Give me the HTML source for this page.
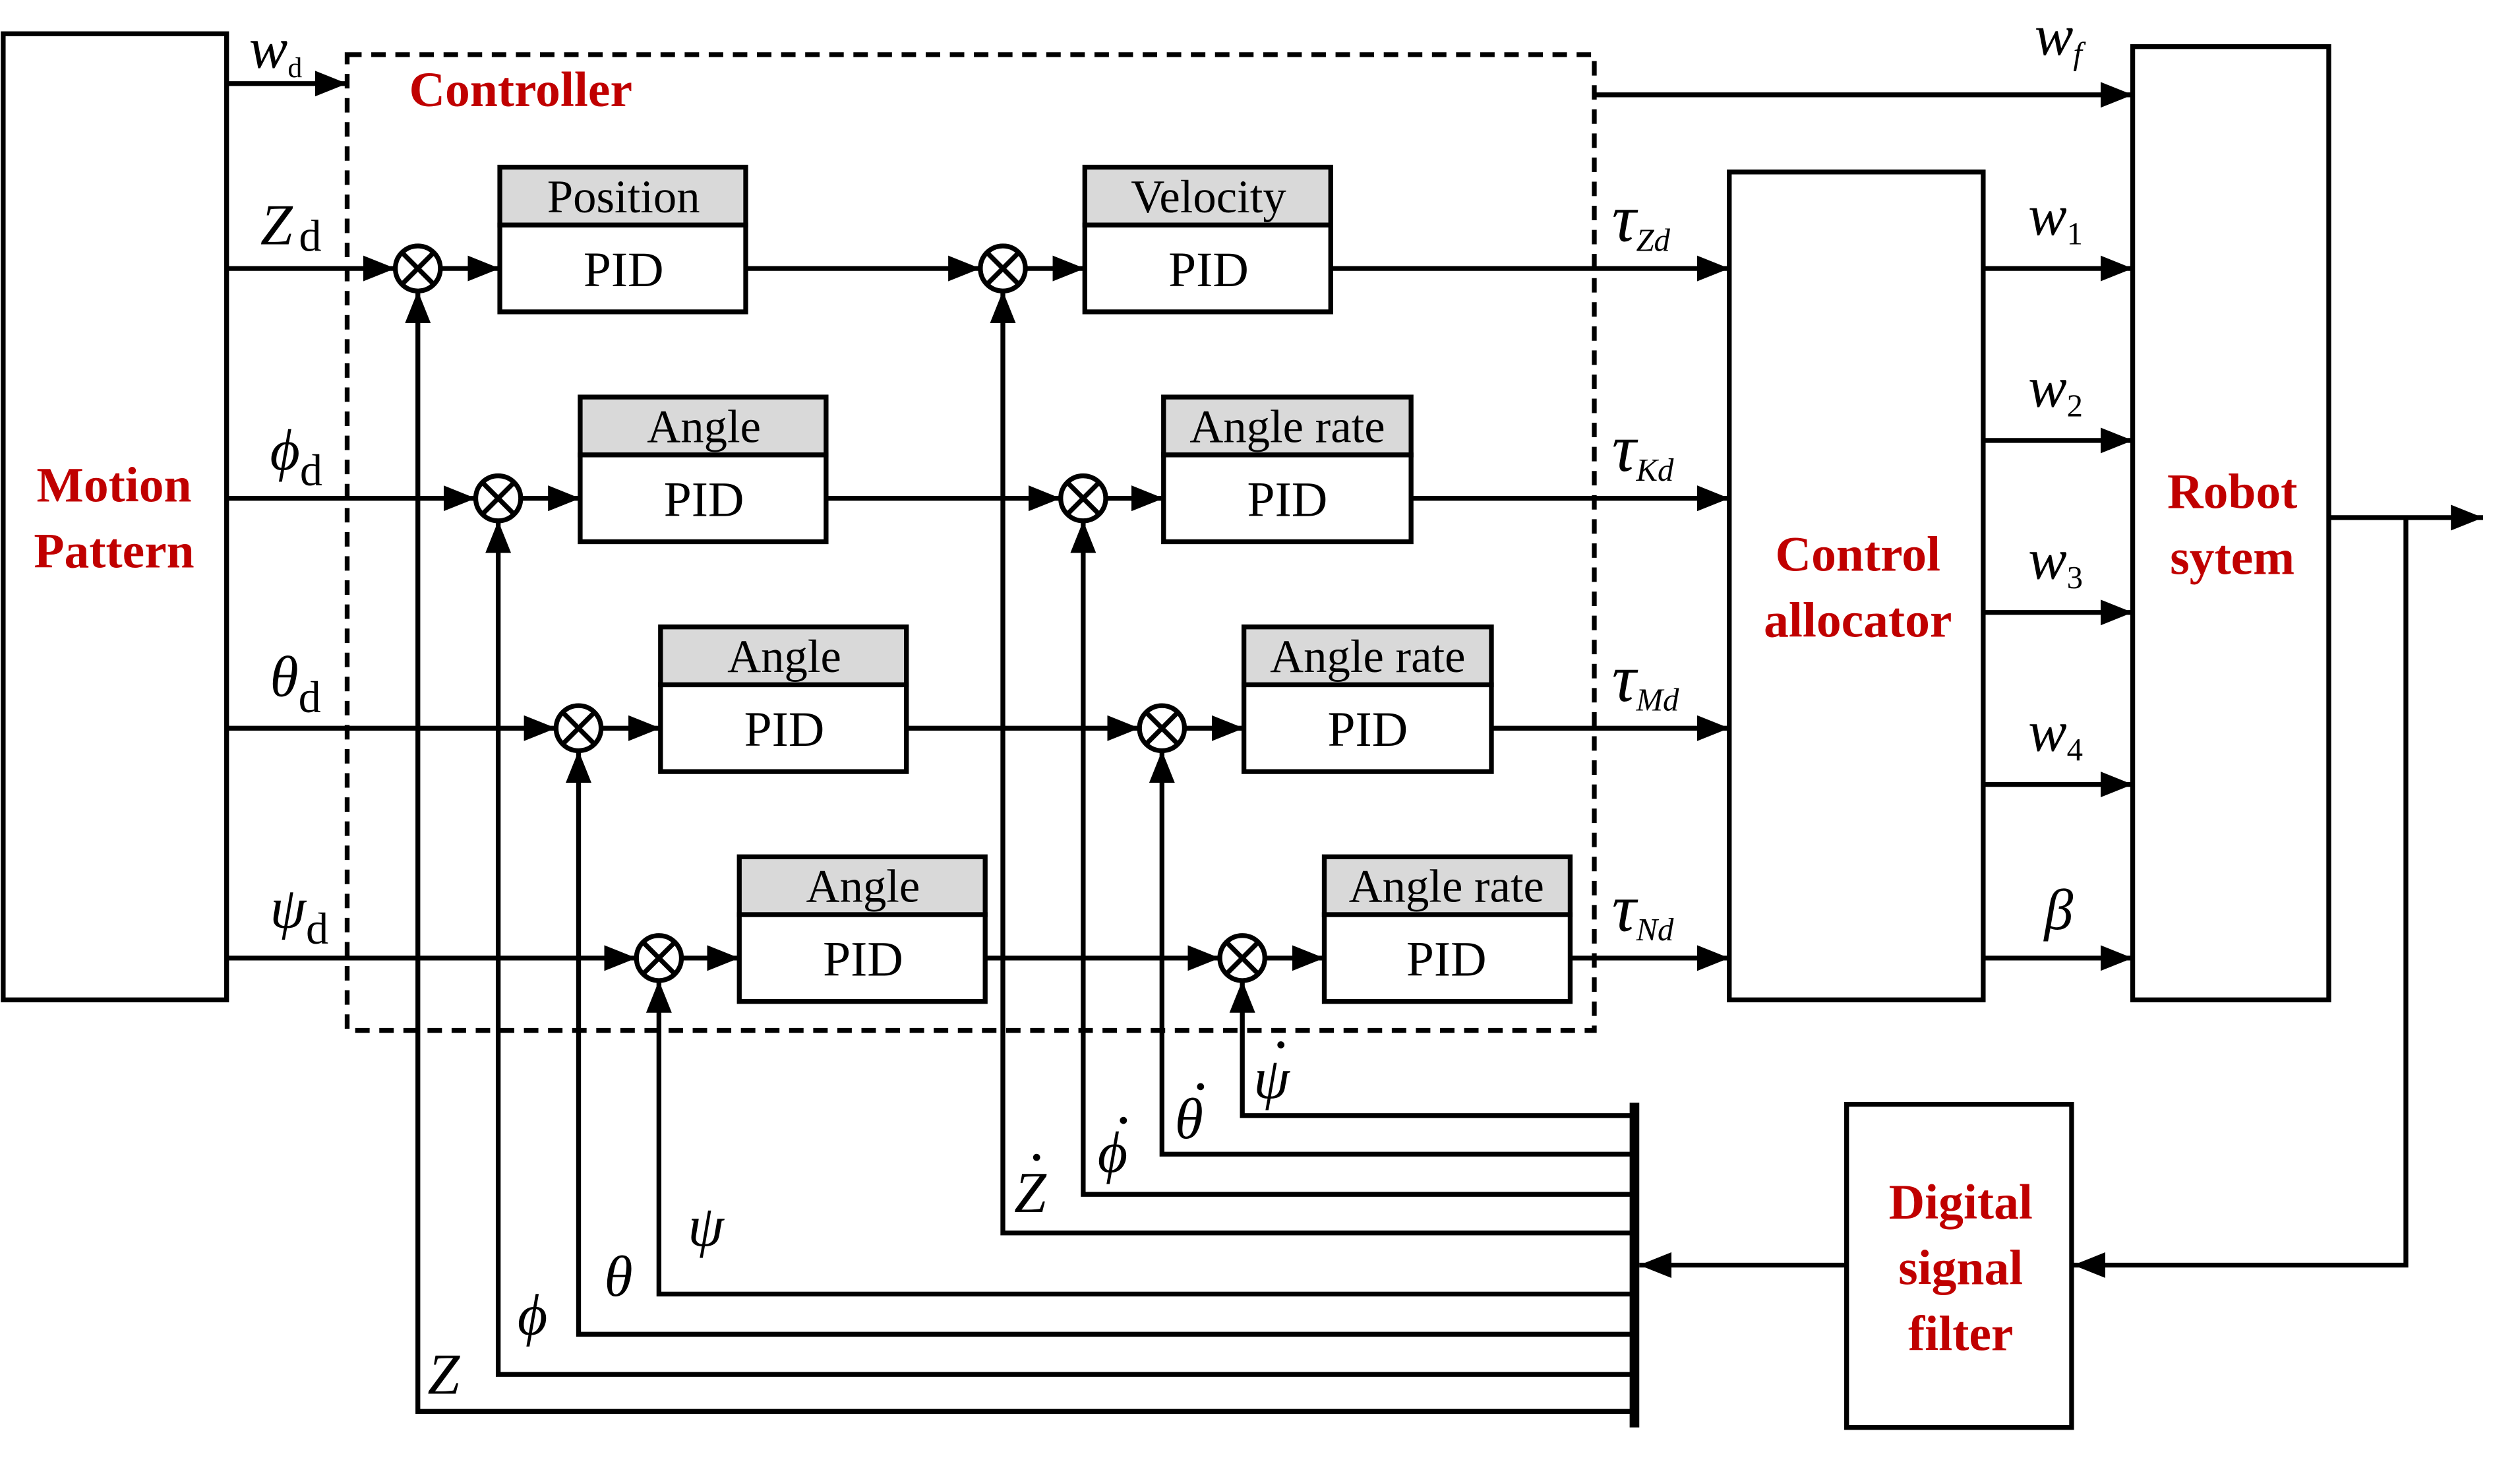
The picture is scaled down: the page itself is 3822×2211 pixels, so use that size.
<!DOCTYPE html>
<html><head><meta charset="utf-8"><style>html,body{margin:0;padding:0;background:#fff}svg{display:block}</style></head>
<body>
<svg width="3822" height="2211" viewBox="0 0 1568 907" preserveAspectRatio="none" xmlns="http://www.w3.org/2000/svg">
<defs>
<marker id="a" viewBox="0 0 20 16" refX="20" refY="8" markerWidth="20" markerHeight="16" markerUnits="userSpaceOnUse" orient="auto"><path d="M0,0 L20,8 L0,16 Z" fill="#000"/></marker>
</defs>
<g fill="none" stroke="#000" stroke-width="3">
<rect x="2" y="21" width="139" height="601"/>
<rect x="1076" y="107" width="158" height="515"/>
<rect x="1327" y="29" width="122" height="593"/>
<rect x="1149" y="687" width="140" height="201"/>
<rect x="216" y="34" width="776" height="607" stroke-dasharray="9,6"/>
<line x1="141" y1="52" x2="216" y2="52" marker-end="url(#a)"/>
<line x1="992" y1="59" x2="1327" y2="59" marker-end="url(#a)"/>
<line x1="1234" y1="167" x2="1327" y2="167" marker-end="url(#a)"/>
<line x1="1234" y1="274" x2="1327" y2="274" marker-end="url(#a)"/>
<line x1="1234" y1="381" x2="1327" y2="381" marker-end="url(#a)"/>
<line x1="1234" y1="488" x2="1327" y2="488" marker-end="url(#a)"/>
<line x1="1234" y1="596" x2="1327" y2="596" marker-end="url(#a)"/>
<line x1="1449" y1="322" x2="1545" y2="322" marker-end="url(#a)"/>
<polyline points="1497,322 1497,787 1290,787" marker-end="url(#a)"/>
<line x1="1149" y1="787" x2="1020" y2="787" marker-end="url(#a)"/>
<line x1="1017" y1="686" x2="1017" y2="888" stroke-width="6"/>
</g>
<g stroke="#000" stroke-width="3" fill="none">
<line x1="141" y1="167" x2="246" y2="167" marker-end="url(#a)"/>
<line x1="274" y1="167" x2="311" y2="167" marker-end="url(#a)"/>
<line x1="464" y1="167" x2="610" y2="167" marker-end="url(#a)"/>
<line x1="638" y1="167" x2="675" y2="167" marker-end="url(#a)"/>
<line x1="828" y1="167" x2="1076" y2="167" marker-end="url(#a)"/>
<line x1="141" y1="310" x2="296" y2="310" marker-end="url(#a)"/>
<line x1="324" y1="310" x2="361" y2="310" marker-end="url(#a)"/>
<line x1="514" y1="310" x2="660" y2="310" marker-end="url(#a)"/>
<line x1="688" y1="310" x2="724" y2="310" marker-end="url(#a)"/>
<line x1="878" y1="310" x2="1076" y2="310" marker-end="url(#a)"/>
<line x1="141" y1="453" x2="346" y2="453" marker-end="url(#a)"/>
<line x1="374" y1="453" x2="411" y2="453" marker-end="url(#a)"/>
<line x1="564" y1="453" x2="709" y2="453" marker-end="url(#a)"/>
<line x1="737" y1="453" x2="774" y2="453" marker-end="url(#a)"/>
<line x1="928" y1="453" x2="1076" y2="453" marker-end="url(#a)"/>
<line x1="141" y1="596" x2="396" y2="596" marker-end="url(#a)"/>
<line x1="424" y1="596" x2="460" y2="596" marker-end="url(#a)"/>
<line x1="613" y1="596" x2="759" y2="596" marker-end="url(#a)"/>
<line x1="787" y1="596" x2="824" y2="596" marker-end="url(#a)"/>
<line x1="977" y1="596" x2="1076" y2="596" marker-end="url(#a)"/>
<polyline points="1017,694 773,694 773,610" marker-end="url(#a)"/>
<polyline points="1017,718 723,718 723,467" marker-end="url(#a)"/>
<polyline points="1017,743 674,743 674,324" marker-end="url(#a)"/>
<polyline points="1017,767 624,767 624,181" marker-end="url(#a)"/>
<polyline points="1017,805 410,805 410,610" marker-end="url(#a)"/>
<polyline points="1017,830 360,830 360,467" marker-end="url(#a)"/>
<polyline points="1017,855 310,855 310,324" marker-end="url(#a)"/>
<polyline points="1017,878 260,878 260,181" marker-end="url(#a)"/>
</g>
<g stroke="#000" stroke-width="3" fill="#fff">
<g transform="translate(260,167)"><circle r="14"/><path d="M-10,-10 L10,10 M-10,10 L10,-10"/></g>
<g transform="translate(624,167)"><circle r="14"/><path d="M-10,-10 L10,10 M-10,10 L10,-10"/></g>
<g transform="translate(310,310)"><circle r="14"/><path d="M-10,-10 L10,10 M-10,10 L10,-10"/></g>
<g transform="translate(674,310)"><circle r="14"/><path d="M-10,-10 L10,10 M-10,10 L10,-10"/></g>
<g transform="translate(360,453)"><circle r="14"/><path d="M-10,-10 L10,10 M-10,10 L10,-10"/></g>
<g transform="translate(723,453)"><circle r="14"/><path d="M-10,-10 L10,10 M-10,10 L10,-10"/></g>
<g transform="translate(410,596)"><circle r="14"/><path d="M-10,-10 L10,10 M-10,10 L10,-10"/></g>
<g transform="translate(773,596)"><circle r="14"/><path d="M-10,-10 L10,10 M-10,10 L10,-10"/></g>
</g>
<g stroke="#000" stroke-width="3">
<rect x="311" y="104" width="153" height="36" fill="#d9d9d9"/><rect x="311" y="140" width="153" height="54" fill="#fff"/>
<rect x="675" y="104" width="153" height="36" fill="#d9d9d9"/><rect x="675" y="140" width="153" height="54" fill="#fff"/>
<rect x="361" y="247" width="153" height="36" fill="#d9d9d9"/><rect x="361" y="283" width="153" height="54" fill="#fff"/>
<rect x="724" y="247" width="154" height="36" fill="#d9d9d9"/><rect x="724" y="283" width="154" height="54" fill="#fff"/>
<rect x="411" y="390" width="153" height="36" fill="#d9d9d9"/><rect x="411" y="426" width="153" height="54" fill="#fff"/>
<rect x="774" y="390" width="154" height="36" fill="#d9d9d9"/><rect x="774" y="426" width="154" height="54" fill="#fff"/>
<rect x="460" y="533" width="153" height="36" fill="#d9d9d9"/><rect x="460" y="569" width="153" height="54" fill="#fff"/>
<rect x="824" y="533" width="153" height="36" fill="#d9d9d9"/><rect x="824" y="569" width="153" height="54" fill="#fff"/>
</g>
<g font-family="Liberation Serif, serif" font-size="29" text-anchor="middle" fill="#000">
<text x="388" y="132">Position</text><text x="388" y="178" font-size="31">PID</text>
<text x="752" y="132">Velocity</text><text x="752" y="178" font-size="31">PID</text>
<text x="438" y="275">Angle</text><text x="438" y="321" font-size="31">PID</text>
<text x="801" y="275">Angle rate</text><text x="801" y="321" font-size="31">PID</text>
<text x="488" y="418">Angle</text><text x="488" y="464" font-size="31">PID</text>
<text x="851" y="418">Angle rate</text><text x="851" y="464" font-size="31">PID</text>
<text x="537" y="561">Angle</text><text x="537" y="607" font-size="31">PID</text>
<text x="900" y="561">Angle rate</text><text x="900" y="607" font-size="31">PID</text>
</g>
<g font-family="Liberation Serif, serif" font-size="31" font-weight="bold" fill="#c00000" text-anchor="middle">
<text x="324" y="66">Controller</text>
<text x="71" y="312">Motion</text><text x="71" y="353">Pattern</text>
<text x="1156" y="355">Control</text><text x="1156" y="396">allocator</text>
<text x="1389" y="316">Robot</text><text x="1389" y="357">sytem</text>
<text x="1220" y="758">Digital</text><text x="1220" y="799">signal</text><text x="1220" y="840">filter</text>
</g>
<g font-family="Liberation Serif, serif" font-size="36" font-style="italic" fill="#000">
<text x="155" y="42">w<tspan font-size="18" font-style="normal" dy="6">d</tspan></text>
<text x="162" y="152">Z<tspan font-size="28" font-style="normal" dx="4" dy="4">d</tspan></text>
<text x="168" y="292">ϕ<tspan font-size="28" font-style="normal" dy="10">d</tspan></text>
<text x="168" y="433">θ<tspan font-size="28" font-style="normal" dy="10">d</tspan></text>
<text x="168" y="577">ψ<tspan font-size="28" font-style="normal" dy="10">d</tspan></text>
<text x="1266" y="34">w<tspan font-size="20" dy="6">f</tspan></text>
<text x="1262" y="146">w<tspan font-size="20" font-style="normal" dy="6">1</tspan></text>
<text x="1262" y="253">w<tspan font-size="20" font-style="normal" dy="6">2</tspan></text>
<text x="1262" y="360">w<tspan font-size="20" font-style="normal" dy="6">3</tspan></text>
<text x="1262" y="467">w<tspan font-size="20" font-style="normal" dy="6">4</tspan></text>
<text x="1272" y="578">β</text>
<text x="1003" y="150" font-size="42">τ<tspan font-size="20" dy="6">Zd</tspan></text>
<text x="1003" y="293" font-size="42">τ<tspan font-size="20" dy="6">Kd</tspan></text>
<text x="1003" y="436" font-size="42">τ<tspan font-size="20" dy="6">Md</tspan></text>
<text x="1003" y="579" font-size="42">τ<tspan font-size="20" dy="6">Nd</tspan></text>
<text x="780" y="683">ψ</text>
<text x="731" y="708">θ</text>
<text x="683" y="729">ϕ</text>
<text x="631" y="754">Z</text>
<text x="428" y="775">ψ</text>
<text x="376" y="806">θ</text>
<text x="322" y="830">ϕ</text>
<text x="266" y="867">Z</text>
</g>
<g fill="#000">
<circle cx="797" cy="650" r="2.2"/>
<circle cx="747" cy="676" r="2.2"/>
<circle cx="699" cy="697" r="2.2"/>
<circle cx="645" cy="720" r="2.2"/>
</g>
</svg>
</body></html>
